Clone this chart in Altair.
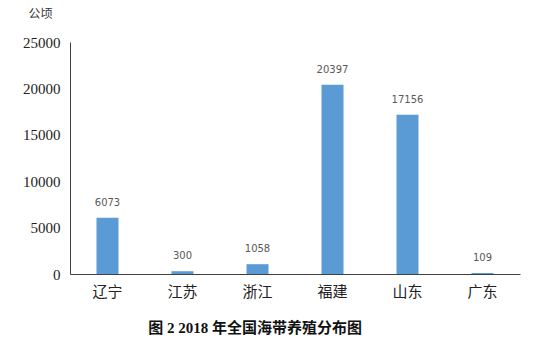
import altair as alt
import pandas as pd

provinces = ["辽宁", "江苏", "浙江", "福建", "山东", "广东"]
areas = [6073, 300, 1058, 20397, 17156, 109]
y_ticks = [0, 5000, 10000, 15000, 20000, 25000]

df = pd.DataFrame({"省份": provinces, "面积": areas})

base = alt.Chart(df).encode(
    x=alt.X("省份:N", sort=provinces,
            scale=alt.Scale(paddingInner=0.7, paddingOuter=0.35),
            axis=alt.Axis(title=None, labelAngle=0, ticks=False, domainColor="#404040",
                          labelFont="Noto Sans CJK SC", labelFontSize=15, labelColor="#222222",
                          labelPadding=10)),
    y=alt.Y("面积:Q", scale=alt.Scale(domain=[0, 25000], nice=False),
            axis=alt.Axis(title="公顷", titleAngle=0, titleX=-30, titleY=-22,
                          titleFont="Noto Sans CJK SC", titleFontSize=12, titleFontWeight="normal",
                          titleColor="#333333", titleAlign="center",
                          values=y_ticks, format="d", grid=False, ticks=False,
                          domainColor="#404040", labelFont="Liberation Serif",
                          labelFontSize=15, labelColor="#222222", labelPadding=10)),
)

bars = base.mark_bar(color="#5B9BD5", size=22)
labels = base.mark_text(baseline="bottom", dy=-10, fontSize=10, color="#595959",
                        font="DejaVu Sans").encode(text=alt.Text("面积:Q", format="d"))

chart = (bars + labels).properties(
    width=450, height=232,
    title=alt.TitleParams("图 2 2018 年全国海带养殖分布图", orient="bottom", anchor="middle",
                          dx=-40, offset=22, fontSize=15, fontWeight="bold",
                          font="Liberation Serif, Noto Sans CJK SC", color="#111111"),
    autosize="none",
    padding={"left": 70, "top": 42, "right": 15, "bottom": 79},
).configure(background="white").configure_view(stroke=None, strokeWidth=0)

chart.save("out.html", embed_options={"renderer": "svg", "actions": False})
